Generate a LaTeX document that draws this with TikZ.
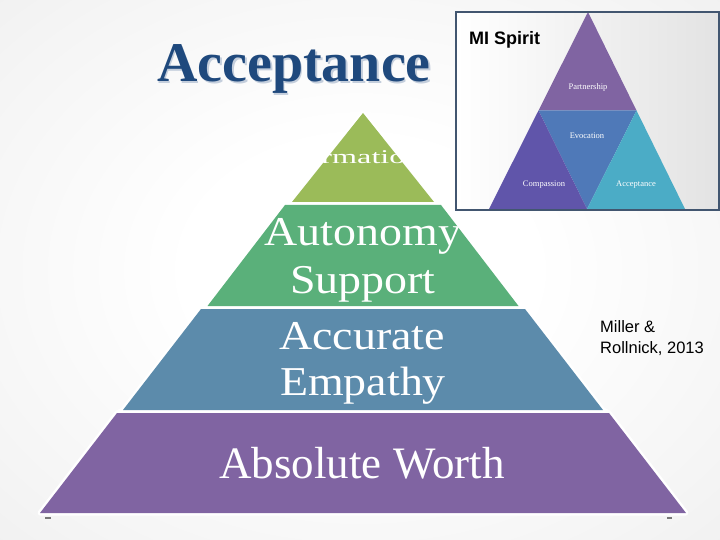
\documentclass[tikz,border=0pt]{standalone}
\usepackage{fontspec}
\setmainfont{Liberation Serif}
\newfontfamily\sansf{Liberation Sans}
\usepackage{graphicx}
\definecolor{titleblue}{RGB}{31,73,125}
\definecolor{titleshadow}{RGB}{196,206,220}
\definecolor{olive}{RGB}{155,187,89}
\definecolor{bandgreen}{RGB}{90,176,122}
\definecolor{bandblue}{RGB}{92,139,171}
\definecolor{bandpurple}{RGB}{128,100,162}
\definecolor{insetborder}{RGB}{66,86,112}
\definecolor{mipurple}{RGB}{128,100,162}
\definecolor{miblue}{RGB}{79,121,184}
\definecolor{miindigo}{RGB}{96,85,170}
\definecolor{miteal}{RGB}{75,172,198}
\definecolor{markgray}{RGB}{120,120,120}
\pgfdeclareradialshading{slidebg}{\pgfpoint{0bp}{0bp}}{color(0bp)=(white); color(12bp)=(white); color(30bp)=(black!4); color(50bp)=(black!9); color(72bp)=(black!17)}
\tikzset{
  band/.style={fill=#1, draw=none},
  biglabel/.style={anchor=base, inner sep=0pt, text=white, font=\fontsize{41}{41}\selectfont},
  milabel/.style={inner sep=0pt, text=white, font=\fontsize{8.5}{8.5}\selectfont},
  every node/.style={inner sep=0pt}
}
\begin{document}
\begin{tikzpicture}[x=1pt,y=-1pt]
\useasboundingbox (0,0) rectangle (720,540);
\path[shading=slidebg] (0,0) rectangle (720,540);

% white backing of the pyramid (gaps and outline)
\filldraw[white, line width=5pt, line join=round]
  (363,113) -- (292,202) -- (285,205) -- (207.5,306) -- (201,309) -- (123,410)
  -- (117,413) -- (40,513) -- (686,513) -- (609,413) -- (603,410) -- (525,309)
  -- (518.5,306) -- (441,205) -- (434,202) -- cycle;

% bands
\path[band=olive] (363,113) -- (292,202) -- (434,202) -- cycle;
\path[band=bandgreen] (285,205) -- (441,205) -- (518.5,306) -- (207.5,306) -- cycle;
\path[band=bandblue] (201,309) -- (525,309) -- (603,410) -- (123,410) -- cycle;
\path[band=bandpurple] (117,413) -- (609,413) -- (686,513) -- (40,513) -- cycle;

% small marks under the base
\fill[markgray] (45,516.5) rectangle (51,518.5);
\fill[markgray] (666.5,516.5) rectangle (672,518.5);

% band labels
\node[anchor=base, text=white, font=\fontsize{19.5}{19.5}\selectfont] (affirm) at (345,164) {\scalebox{1.65}[1]{Affirmation}};
\node[biglabel] (auto1) at (363,245) {\scalebox{1.12}[1]{Autonomy}};
\node[biglabel] (auto2) at (363,293) {\scalebox{1.12}[1]{Support}};
\node[biglabel] (acc1) at (362,349) {\scalebox{1.12}[1]{Accurate}};
\node[biglabel] (acc2) at (363,395) {\scalebox{1.12}[1]{Empathy}};
\node[anchor=base, text=white, font=\fontsize{45}{45}\selectfont] (worth) at (362,478) {Absolute Worth};

% title with shadow
\node[anchor=base, text=titleshadow, font=\bfseries\fontsize{56}{56}\selectfont] (titleshadow) at (295.8,83.8) {Acceptance};
\node[anchor=base, text=titleblue, font=\bfseries\fontsize{56}{56}\selectfont] (title) at (294,82) {Acceptance};

% inset
\path[left color=white, right color=black!11] (456,12) rectangle (719,210);
\path[fill=mipurple] (588,12) -- (538.5,110.5) -- (636.5,110.5) -- cycle;
\path[fill=miblue] (538.5,110.5) -- (636.5,110.5) -- (587,209) -- cycle;
\path[fill=miindigo] (538.5,110.5) -- (587,209) -- (489,209) -- cycle;
\path[fill=miteal] (636.5,110.5) -- (685,209) -- (587,209) -- cycle;
\draw[insetborder, line width=2pt] (456,12) rectangle (719,210);
\node[anchor=base west, font=\sansf\bfseries\fontsize{18}{18}\selectfont] (mispirit) at (469,44.3) {MI Spirit};
\node[milabel] (partner) at (588,87) {Partnership};
\node[milabel] (evoc) at (587,135.5) {Evocation};
\node[milabel] (compass) at (544,185) {Compassion};
\node[milabel] (accept) at (636,185) {Acceptance};

% citation
\node[anchor=base west, font=\sansf\fontsize{16.5}{16.5}\selectfont] (cite1) at (600,332) {Miller \&};
\node[anchor=base west, font=\sansf\fontsize{16.5}{16.5}\selectfont] (cite2) at (600,353) {Rollnick, 2013};
\end{tikzpicture}
\end{document}
